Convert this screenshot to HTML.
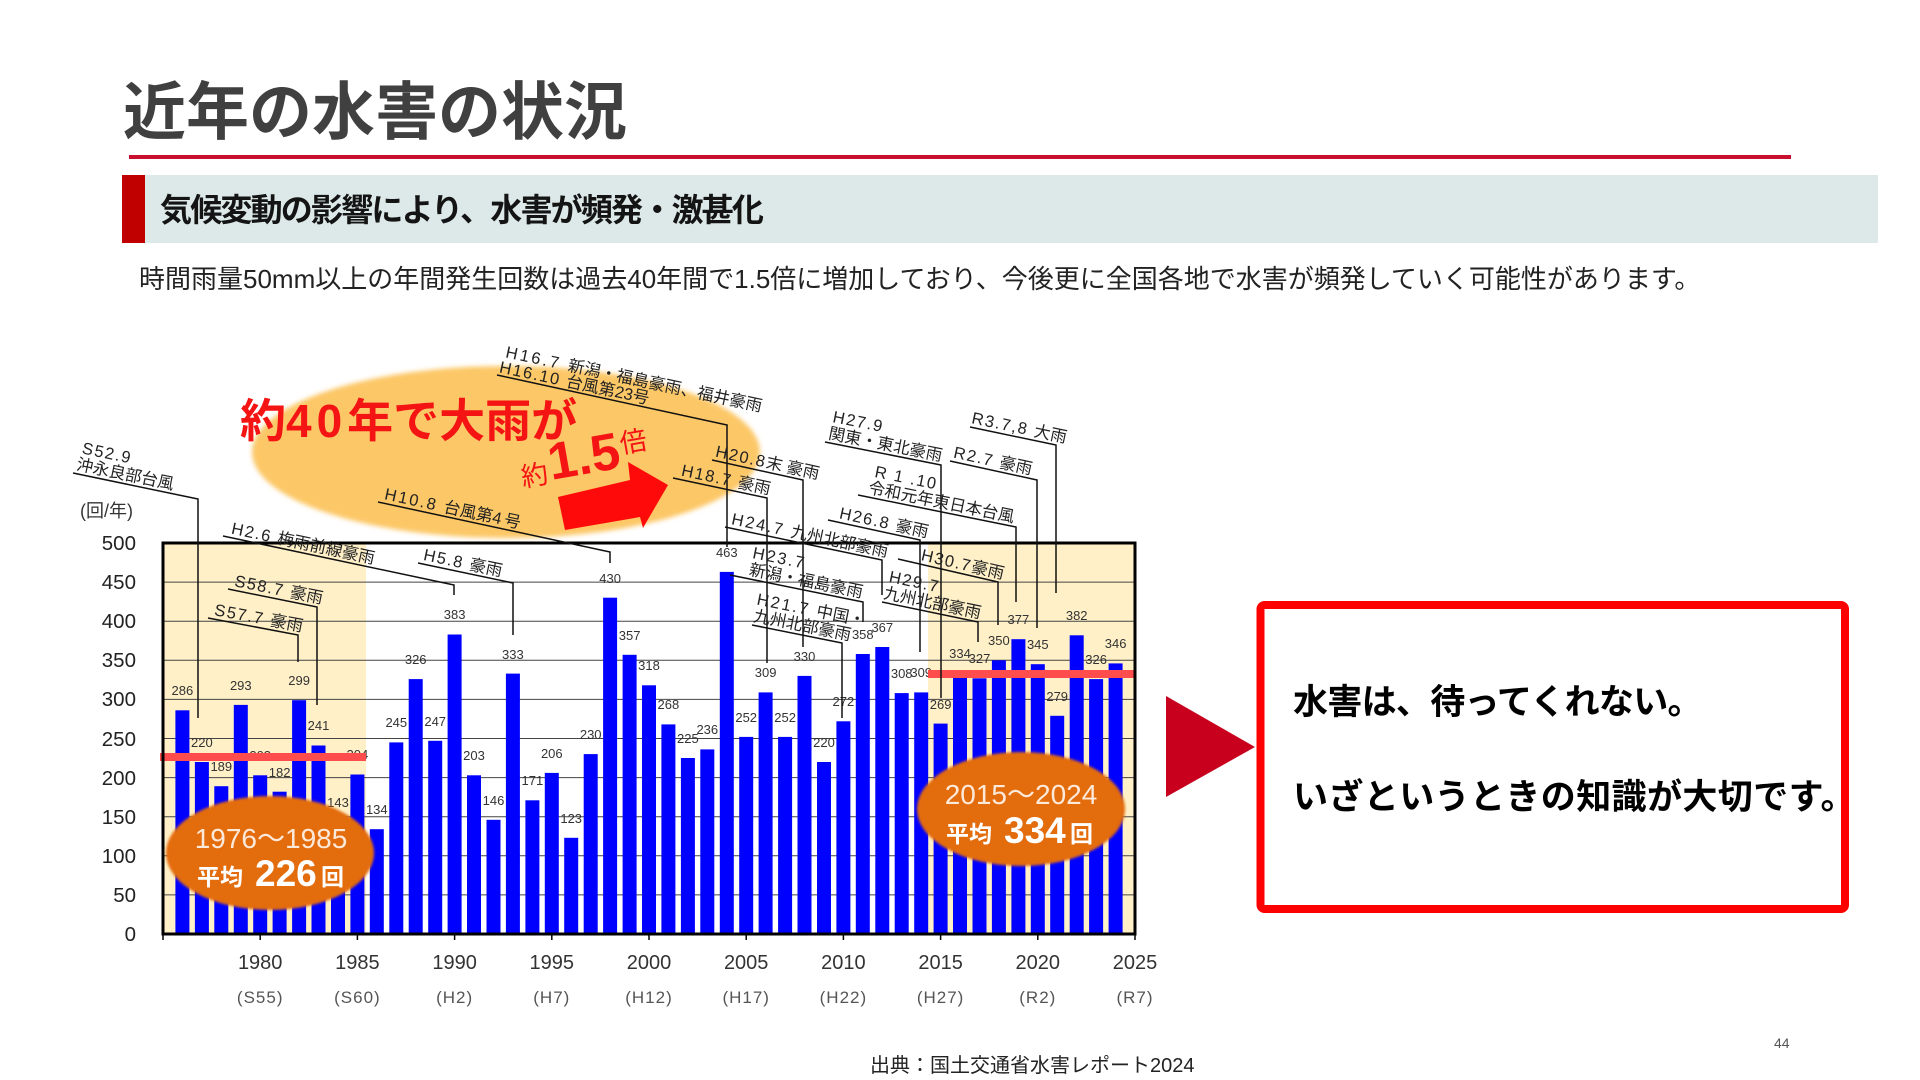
<!DOCTYPE html>
<html lang="ja">
<head>
<meta charset="utf-8">
<style>
  html,body{margin:0;padding:0;background:#fff;}
  body{width:1920px;height:1080px;overflow:hidden;}
  svg{display:block;}
  text{font-family:"Liberation Sans","Noto Sans CJK JP",sans-serif;}
</style>
</head>
<body>
<svg width="1920" height="1080" viewBox="0 0 1920 1080" xmlns="http://www.w3.org/2000/svg">
  <defs>
    <filter id="soft" x="-10%" y="-10%" width="120%" height="120%">
      <feGaussianBlur stdDeviation="2.5"/>
    </filter>
    <filter id="soft2" x="-10%" y="-10%" width="120%" height="120%">
      <feGaussianBlur stdDeviation="1.2"/>
    </filter>
  </defs>

  <!-- Header -->
  <text x="123" y="134" font-size="63" font-weight="bold" fill="#404040">近年の水害の状況</text>
  <rect x="129" y="155" width="1662" height="4" fill="#c8102e"/>
  <rect x="122" y="175" width="1756" height="68" fill="#dde9e8"/>
  <rect x="122" y="175" width="23" height="68" fill="#c00000"/>
  <text x="160" y="221" font-size="32" font-weight="bold" letter-spacing="-1.8" fill="#141414">気候変動の影響により、水害が頻発・激甚化</text>
  <text x="139" y="288" font-size="26" fill="#222">時間雨量50mm以上の年間発生回数は過去40年間で1.5倍に増加しており、今後更に全国各地で水害が頻発していく可能性があります。</text>

  <!-- Big yellow ellipse -->
  <ellipse cx="506" cy="452" rx="254" ry="86" fill="#fcc766" filter="url(#soft)"/>

  <!-- Plot shading -->
  <rect x="163" y="543" width="203" height="391" fill="#fff0c8"/>
  <rect x="928" y="543" width="207" height="391" fill="#fff0c8"/>

  <!-- Gridlines -->
  <g stroke="#444" stroke-width="1">
    <line x1="163" y1="894.9" x2="1135" y2="894.9"/>
    <line x1="163" y1="855.8" x2="1135" y2="855.8"/>
    <line x1="163" y1="816.7" x2="1135" y2="816.7"/>
    <line x1="163" y1="777.6" x2="1135" y2="777.6"/>
    <line x1="163" y1="738.5" x2="1135" y2="738.5"/>
    <line x1="163" y1="699.4" x2="1135" y2="699.4"/>
    <line x1="163" y1="660.3" x2="1135" y2="660.3"/>
    <line x1="163" y1="621.2" x2="1135" y2="621.2"/>
    <line x1="163" y1="582.1" x2="1135" y2="582.1"/>
  </g>

  <!-- Bars -->
  <g fill="#0000ff">
    <rect x="175.4" y="710.3" width="14" height="223.7"/>
    <rect x="194.9" y="762.0" width="14" height="172.0"/>
    <rect x="214.3" y="786.2" width="14" height="147.8"/>
    <rect x="233.8" y="704.9" width="14" height="229.1"/>
    <rect x="253.2" y="775.3" width="14" height="158.7"/>
    <rect x="272.6" y="791.7" width="14" height="142.3"/>
    <rect x="292.1" y="700.2" width="14" height="233.8"/>
    <rect x="311.5" y="745.5" width="14" height="188.5"/>
    <rect x="331.0" y="822.2" width="14" height="111.8"/>
    <rect x="350.4" y="774.5" width="14" height="159.5"/>
    <rect x="369.8" y="829.2" width="14" height="104.8"/>
    <rect x="389.3" y="742.4" width="14" height="191.6"/>
    <rect x="408.7" y="679.1" width="14" height="254.9"/>
    <rect x="428.2" y="740.8" width="14" height="193.2"/>
    <rect x="447.6" y="634.5" width="14" height="299.5"/>
    <rect x="467.0" y="775.3" width="14" height="158.7"/>
    <rect x="486.5" y="819.8" width="14" height="114.2"/>
    <rect x="505.9" y="673.6" width="14" height="260.4"/>
    <rect x="525.4" y="800.3" width="14" height="133.7"/>
    <rect x="544.8" y="772.9" width="14" height="161.1"/>
    <rect x="564.2" y="837.8" width="14" height="96.2"/>
    <rect x="583.7" y="754.1" width="14" height="179.9"/>
    <rect x="603.1" y="597.7" width="14" height="336.3"/>
    <rect x="622.6" y="654.8" width="14" height="279.2"/>
    <rect x="642.0" y="685.3" width="14" height="248.7"/>
    <rect x="661.4" y="724.4" width="14" height="209.6"/>
    <rect x="680.9" y="758.0" width="14" height="176.0"/>
    <rect x="700.3" y="749.4" width="14" height="184.6"/>
    <rect x="719.8" y="571.9" width="14" height="362.1"/>
    <rect x="739.2" y="736.9" width="14" height="197.1"/>
    <rect x="758.6" y="692.4" width="14" height="241.6"/>
    <rect x="778.1" y="736.9" width="14" height="197.1"/>
    <rect x="797.5" y="675.9" width="14" height="258.1"/>
    <rect x="817.0" y="762.0" width="14" height="172.0"/>
    <rect x="836.4" y="721.3" width="14" height="212.7"/>
    <rect x="855.8" y="654.0" width="14" height="280.0"/>
    <rect x="875.3" y="647.0" width="14" height="287.0"/>
    <rect x="894.7" y="693.1" width="14" height="240.9"/>
    <rect x="914.2" y="692.4" width="14" height="241.6"/>
    <rect x="933.6" y="723.6" width="14" height="210.4"/>
    <rect x="953.0" y="672.8" width="14" height="261.2"/>
    <rect x="972.5" y="678.3" width="14" height="255.7"/>
    <rect x="991.9" y="660.3" width="14" height="273.7"/>
    <rect x="1011.4" y="639.2" width="14" height="294.8"/>
    <rect x="1030.8" y="664.2" width="14" height="269.8"/>
    <rect x="1050.2" y="715.8" width="14" height="218.2"/>
    <rect x="1069.7" y="635.3" width="14" height="298.7"/>
    <rect x="1089.1" y="679.1" width="14" height="254.9"/>
    <rect x="1108.6" y="663.4" width="14" height="270.6"/>
  </g>

  <!-- Value labels -->
  <g font-size="13" fill="#333" text-anchor="middle">
    <text x="182.4" y="695">286</text>
    <text x="201.9" y="747">220</text>
    <text x="221.3" y="771">189</text>
    <text x="240.8" y="690">293</text>
    <text x="260.2" y="760">203</text>
    <text x="279.6" y="777">182</text>
    <text x="299.1" y="685">299</text>
    <text x="318.5" y="730">241</text>
    <text x="338.0" y="807">143</text>
    <text x="357.4" y="759">204</text>
    <text x="376.8" y="814">134</text>
    <text x="396.3" y="727">245</text>
    <text x="415.7" y="664">326</text>
    <text x="435.2" y="726">247</text>
    <text x="454.6" y="619">383</text>
    <text x="474.0" y="760">203</text>
    <text x="493.5" y="805">146</text>
    <text x="512.9" y="659">333</text>
    <text x="532.4" y="785">171</text>
    <text x="551.8" y="758">206</text>
    <text x="571.2" y="823">123</text>
    <text x="590.7" y="739">230</text>
    <text x="610.1" y="583">430</text>
    <text x="629.6" y="640">357</text>
    <text x="649.0" y="670">318</text>
    <text x="668.4" y="709">268</text>
    <text x="687.9" y="743">225</text>
    <text x="707.3" y="734">236</text>
    <text x="726.8" y="557">463</text>
    <text x="746.2" y="722">252</text>
    <text x="765.6" y="677">309</text>
    <text x="785.1" y="722">252</text>
    <text x="804.5" y="661">330</text>
    <text x="824.0" y="747">220</text>
    <text x="843.4" y="706">272</text>
    <text x="862.8" y="639">358</text>
    <text x="882.3" y="632">367</text>
    <text x="901.7" y="678">308</text>
    <text x="921.2" y="677">309</text>
    <text x="940.6" y="709">269</text>
    <text x="960.0" y="658">334</text>
    <text x="979.5" y="663">327</text>
    <text x="998.9" y="645">350</text>
    <text x="1018.4" y="624">377</text>
    <text x="1037.8" y="649">345</text>
    <text x="1057.2" y="701">279</text>
    <text x="1076.7" y="620">382</text>
    <text x="1096.1" y="664">326</text>
    <text x="1115.6" y="648">346</text>
  </g>

  <!-- Average lines -->
  <rect x="160" y="753" width="206" height="8" fill="#ff4d4d"/>
  <rect x="928" y="670" width="207" height="8" fill="#ff4d4d"/>

  <!-- Frame -->
  <rect x="163" y="543" width="972" height="391" fill="none" stroke="#000" stroke-width="3"/>

  <!-- X ticks -->
  <g stroke="#000" stroke-width="1.5">
    <line x1="163" y1="934" x2="163" y2="940"/>
    <line x1="260.2" y1="934" x2="260.2" y2="940"/>
    <line x1="357.4" y1="934" x2="357.4" y2="940"/>
    <line x1="454.6" y1="934" x2="454.6" y2="940"/>
    <line x1="551.8" y1="934" x2="551.8" y2="940"/>
    <line x1="649" y1="934" x2="649" y2="940"/>
    <line x1="746.2" y1="934" x2="746.2" y2="940"/>
    <line x1="843.4" y1="934" x2="843.4" y2="940"/>
    <line x1="940.6" y1="934" x2="940.6" y2="940"/>
    <line x1="1037.8" y1="934" x2="1037.8" y2="940"/>
    <line x1="1135" y1="934" x2="1135" y2="940"/>
  </g>

  <!-- Y labels -->
  <g font-size="20.5" fill="#222" text-anchor="end">
    <text x="136" y="941">0</text>
    <text x="136" y="902">50</text>
    <text x="136" y="863">100</text>
    <text x="136" y="824">150</text>
    <text x="136" y="785">200</text>
    <text x="136" y="746">250</text>
    <text x="136" y="706">300</text>
    <text x="136" y="667">350</text>
    <text x="136" y="628">400</text>
    <text x="136" y="589">450</text>
    <text x="136" y="550">500</text>
  </g>
  <text x="80" y="517" font-size="18" fill="#333">(回/年)</text>

  <!-- X labels -->
  <g font-size="20" fill="#333" text-anchor="middle">
    <text x="260.2" y="969">1980</text>
    <text x="357.4" y="969">1985</text>
    <text x="454.6" y="969">1990</text>
    <text x="551.8" y="969">1995</text>
    <text x="649" y="969">2000</text>
    <text x="746.2" y="969">2005</text>
    <text x="843.4" y="969">2010</text>
    <text x="940.6" y="969">2015</text>
    <text x="1037.8" y="969">2020</text>
    <text x="1135" y="969">2025</text>
  </g>
  <g font-size="17" fill="#555" text-anchor="middle" letter-spacing="1">
    <text x="260.2" y="1003">(S55)</text>
    <text x="357.4" y="1003">(S60)</text>
    <text x="454.6" y="1003">(H2)</text>
    <text x="551.8" y="1003">(H7)</text>
    <text x="649" y="1003">(H12)</text>
    <text x="746.2" y="1003">(H17)</text>
    <text x="843.4" y="1003">(H22)</text>
    <text x="940.6" y="1003">(H27)</text>
    <text x="1037.8" y="1003">(R2)</text>
    <text x="1135" y="1003">(R7)</text>
  </g>

  <!-- Annotations -->
  <g fill="none" stroke="#111" stroke-width="1.5">
    <polyline points="73,473 198,499 198,718"/>
    <polyline points="208,618 298,635 298,662"/>
    <polyline points="228,589 317,607 317,705"/>
    <polyline points="223,536 454,585 454,595"/>
    <polyline points="418,563 513,583 513,635"/>
    <polyline points="378,502 610,552 610,563"/>
    <polyline points="497,375 727,425 727,547"/>
    <polyline points="673,478 767,498 767,663"/>
    <polyline points="712,460 803,480 803,647"/>
    <polyline points="725,527 882,560 882,595"/>
    <polyline points="730,575 863,602 863,622"/>
    <polyline points="752,625 842,643 842,718"/>
    <polyline points="825,442 941,465 941,698"/>
    <polyline points="858,495 1016,527 1016,602"/>
    <polyline points="828,520 920,540 920,652"/>
    <polyline points="898,559 998,582 998,625"/>
    <polyline points="882,602 978,622 978,642"/>
    <polyline points="950,461 1037,480 1037,628"/>
    <polyline points="970,427 1056,445 1056,593"/>
  </g>
  <g font-size="16.5" fill="#222">
    <g transform="translate(73,473) rotate(11.8)"><text x="4" y="-21"><tspan letter-spacing="1.5">S52.9</tspan></text><text x="2" y="-4">沖永良部台風</text></g>
    <g transform="translate(208,618) rotate(10.7)"><text x="5" y="-4"><tspan letter-spacing="1.5">S57.7 </tspan>豪雨</text></g>
    <g transform="translate(228,589) rotate(11.4)"><text x="5" y="-4"><tspan letter-spacing="1.5">S58.7 </tspan>豪雨</text></g>
    <g transform="translate(223,536) rotate(12)"><text x="7" y="-4"><tspan letter-spacing="1.5">H2.6 </tspan>梅雨前線豪雨</text></g>
    <g transform="translate(418,563) rotate(11.9)"><text x="4" y="-4"><tspan letter-spacing="1.5">H5.8 </tspan>豪雨</text></g>
    <g transform="translate(378,502) rotate(12.2)"><text x="5" y="-4"><tspan letter-spacing="2">H10.8 </tspan>台風第<tspan letter-spacing="3">4</tspan>号</text></g>
    <g transform="translate(497,375) rotate(12)"><text x="4" y="-19"><tspan letter-spacing="2.5">H16.7  </tspan>新潟・福島豪雨、福井豪雨</text><text x="1" y="-3"><tspan letter-spacing="1.5">H16.10 </tspan>台風第23号</text></g>
    <g transform="translate(673,478) rotate(12)"><text x="7" y="-4"><tspan letter-spacing="1.5">H18.7 </tspan>豪雨</text></g>
    <g transform="translate(712,460) rotate(12.4)"><text x="2" y="-4"><tspan letter-spacing="1.5">H20.8</tspan>末 豪雨</text></g>
    <g transform="translate(725,527) rotate(11.9)"><text x="5" y="-4"><tspan letter-spacing="2">H24.7 </tspan>九州北部豪雨</text></g>
    <g transform="translate(730,575) rotate(11.5)"><text x="18" y="-21"><tspan letter-spacing="2">H23.7</tspan></text><text x="18" y="-4">新潟・福島豪雨</text></g>
    <g transform="translate(752,625) rotate(11.3)"><text x="0" y="-21"><tspan letter-spacing="2">H21.7 </tspan>中国・</text><text x="0" y="-4">九州北部豪雨</text></g>
    <g transform="translate(825,442) rotate(11.3)"><text x="3" y="-21"><tspan letter-spacing="1.5">H27.9</tspan></text><text x="2" y="-4">関東・東北豪雨</text></g>
    <g transform="translate(858,495) rotate(11.5)"><text x="12" y="-21"><tspan letter-spacing="1.5">R 1 .10</tspan></text><text x="9" y="-4">令和元年東日本台風</text></g>
    <g transform="translate(828,520) rotate(12.3)"><text x="10" y="-4"><tspan letter-spacing="1.5">H26.8 </tspan>豪雨</text></g>
    <g transform="translate(898,559) rotate(13)"><text x="22" y="-4"><tspan letter-spacing="1.5">H30.7</tspan>豪雨</text></g>
    <g transform="translate(882,602) rotate(11.8)"><text x="2" y="-21"><tspan letter-spacing="1.5">H29.7</tspan></text><text x="0" y="-4">九州北部豪雨</text></g>
    <g transform="translate(950,461) rotate(12.3)"><text x="2" y="-4"><tspan letter-spacing="1.5">R2.7 </tspan>豪雨</text></g>
    <g transform="translate(970,427) rotate(11.8)"><text x="0" y="-4"><tspan letter-spacing="1.5">R3.7,8 </tspan>大雨</text></g>
  </g>

  <!-- Big red text -->
  <text x="240" y="437" font-size="46" font-weight="bold" fill="#f51414">約<tspan letter-spacing="5">40</tspan>年で大雨が</text>
  <g transform="translate(523,487) rotate(-10)" fill="#f51414" font-weight="bold">
    <text x="0" y="0" font-size="27" font-weight="normal">約</text>
    <text x="29" y="-2" font-size="52">1.5</text>
    <text x="103" y="-16" font-size="27" font-weight="normal">倍</text>
  </g>
  <polygon points="558,497 630,480 628,462 668,485 643,528 640,517 565,530" fill="#ff0a0a"/>

  <!-- Orange ovals -->
  <ellipse cx="270" cy="853" rx="104" ry="57" fill="#e36c0a" filter="url(#soft2)"/>
  <text x="271" y="848" font-size="28" fill="#fde9d9" text-anchor="middle">1976～1985</text>
  <g fill="#fff" font-weight="bold">
    <text x="197" y="885" font-size="23">平均</text>
    <text x="255" y="886" font-size="37">226</text>
    <text x="321" y="885" font-size="23">回</text>
  </g>
  <ellipse cx="1021" cy="809" rx="104" ry="57" fill="#e36c0a" filter="url(#soft2)"/>
  <text x="1021" y="804" font-size="28" fill="#fde9d9" text-anchor="middle">2015～2024</text>
  <g fill="#fff" font-weight="bold">
    <text x="946" y="842" font-size="23">平均</text>
    <text x="1004" y="843" font-size="37">334</text>
    <text x="1070" y="842" font-size="23">回</text>
  </g>

  <!-- Right side -->
  <polygon points="1166,696 1255,747 1166,797" fill="#c8001e"/>
  <rect x="1260.5" y="605" width="584.5" height="304" rx="4" fill="#fff" stroke="#ff0000" stroke-width="8"/>
  <text x="1293" y="714" font-size="35" font-weight="bold" letter-spacing="-0.7" fill="#000">水害は、待ってくれない。</text>
  <text x="1293" y="809" font-size="35" font-weight="bold" letter-spacing="0.4" fill="#000">いざというときの知識が大切です。</text>

  <!-- Footer -->
  <text x="870" y="1072" font-size="20" fill="#222">出典：国土交通省水害レポート2024</text>
  <text x="1774" y="1048" font-size="14" fill="#555">44</text>
</svg>
</body>
</html>
